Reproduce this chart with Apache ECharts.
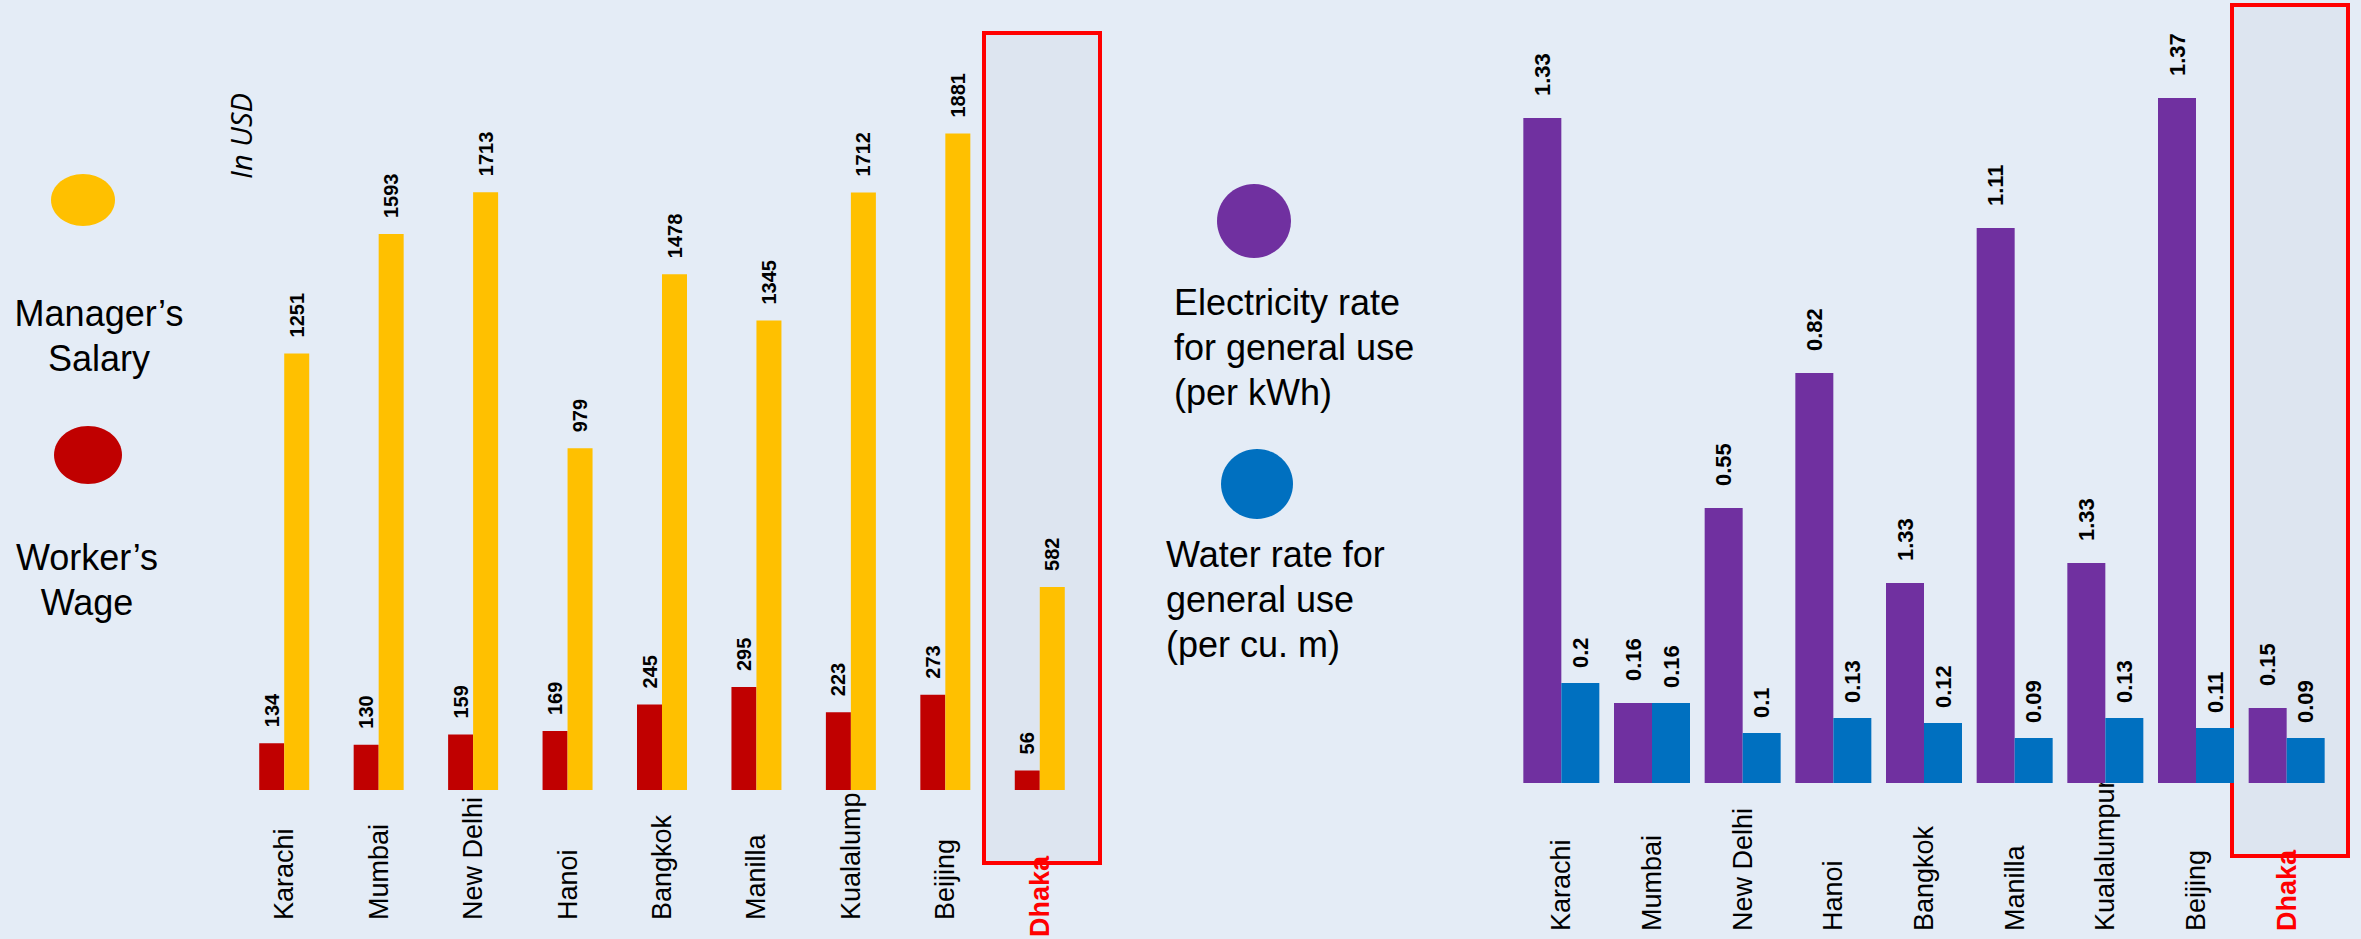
<!DOCTYPE html>
<html lang="en">
<head>
    <meta charset="UTF-8">
    <title>Wages and utility rates</title>
    <script src="https://cdn.jsdelivr.net/npm/echarts@6/dist/echarts.min.js"></script>
    <style>
        html, body { margin: 0; padding: 0; background: #e4ecf6; }
        #chart { width: 2361px; height: 939px; }
    </style>
</head>
<body>
    <div id="chart"></div>
    <script>
        // cities (left chart label is cut short in the original)
        let wageCities = ['Karachi', 'Mumbai', 'New Delhi', 'Hanoi', 'Bangkok', 'Manilla', 'Kualalump', 'Beijing', 'Dhaka'];
        let rateCities = ['Karachi', 'Mumbai', 'New Delhi', 'Hanoi', 'Bangkok', 'Manilla', 'Kualalumpur', 'Beijing', 'Dhaka'];
        // monthly pay, USD
        let workerWage = [134, 130, 159, 169, 245, 295, 223, 273, 56];
        let managerSalary = [1251, 1593, 1713, 979, 1478, 1345, 1712, 1881, 582];
        // electricity: bar heights as drawn, and the printed labels (two labels don't match their bars)
        let elecRate = [1.33, 0.16, 0.55, 0.82, 0.40, 1.11, 0.44, 1.37, 0.15];
        let elecLabels = ['1.33', '0.16', '0.55', '0.82', '1.33', '1.11', '1.33', '1.37', '0.15'];
        // water per cu. m
        let waterRate = [0.2, 0.16, 0.1, 0.13, 0.12, 0.09, 0.13, 0.11, 0.09];

        let font = 'Liberation Sans, Arial, sans-serif';

        // Dhaka gets red bold label
        function catData(list) {
            return list.map(c => c === 'Dhaka'
                ? { value: c, textStyle: {
                        color: '#ff0000', fontWeight: 'bold',
                        align: 'left', verticalAlign: 'middle', padding: [0, 0, 0, 0]
                    } }
                : c);
        }

        function barLabel(size, dist, formatter) {
            let l = {
                show: true,
                position: 'top',
                rotate: 90,
                align: 'left',
                verticalAlign: 'middle',
                distance: dist,
                fontSize: size,
                fontWeight: 'bold',
                fontFamily: font,
                color: '#000'
            };
            if (formatter) l.formatter = formatter;
            return l;
        }

        function legendText(x, y, text, align) {
            return {
                type: 'text',
                x: x,
                y: y,
                style: {
                    text: text,
                    font: '36px ' + font,
                    fill: '#000',
                    align: align,
                    verticalAlign: 'top',
                    lineHeight: 45
                }
            };
        }

        let chart = echarts.init(document.getElementById('chart'), null, { renderer: 'svg' });
        chart.setOption({
            backgroundColor: '#e4ecf6',
            animation: false,
            grid: [
                { left: 237, width: 850, top: 92, height: 698, outerBoundsMode: 'none' },
                { left: 1516, width: 816, top: 33, height: 750, outerBoundsMode: 'none' }
            ],
            xAxis: [
                {
                    type: 'category', gridIndex: 0, data: catData(wageCities),
                    axisLine: { show: false }, axisTick: { show: false },
                    axisLabel: {
                        interval: 0, rotate: 90, align: 'left', verticalAlign: 'middle',
                        margin: 147, padding: [0, 0, 0, 17],
                        fontSize: 27, fontFamily: font, color: '#000'
                    }
                },
                {
                    type: 'category', gridIndex: 1, data: catData(rateCities),
                    axisLine: { show: false }, axisTick: { show: false },
                    axisLabel: {
                        interval: 0, rotate: 90, align: 'left', verticalAlign: 'middle',
                        margin: 148,
                        fontSize: 27, fontFamily: font, color: '#000'
                    }
                }
            ],
            yAxis: [
                { type: 'value', gridIndex: 0, min: 0, max: 2000, show: false, splitLine: { show: false } },
                { type: 'value', gridIndex: 1, min: 0, max: 1.5, show: false, splitLine: { show: false } }
            ],
            series: [
                {
                    name: "Worker's Wage", type: 'bar', xAxisIndex: 0, yAxisIndex: 0,
                    data: workerWage, barWidth: 25, barGap: '0%',
                    itemStyle: { color: '#C00000' },
                    label: barLabel(20, 16)
                },
                {
                    name: "Manager's Salary", type: 'bar', xAxisIndex: 0, yAxisIndex: 0,
                    data: managerSalary, barWidth: 25, barGap: '0%',
                    itemStyle: { color: '#FFC000' },
                    label: barLabel(20, 16)
                },
                {
                    name: 'Electricity rate', type: 'bar', xAxisIndex: 1, yAxisIndex: 1,
                    data: elecRate, barWidth: 38, barGap: '0%',
                    itemStyle: { color: '#7030A0' },
                    label: barLabel(22, 22, p => elecLabels[p.dataIndex])
                },
                {
                    name: 'Water rate', type: 'bar', xAxisIndex: 1, yAxisIndex: 1,
                    data: waterRate, barWidth: 38, barGap: '0%',
                    itemStyle: { color: '#0070C0' },
                    label: barLabel(22, 15)
                }
            ],
            graphic: [
                // Dhaka highlight boxes
                { type: 'rect', z: -1, shape: { x: 984, y: 33, width: 116, height: 830 },
                  style: { fill: 'rgba(190,200,215,0.18)', stroke: '#ff0000', lineWidth: 4 } },
                { type: 'rect', z: -1, shape: { x: 2232, y: 5, width: 116, height: 851 },
                  style: { fill: 'rgba(190,200,215,0.18)', stroke: '#ff0000', lineWidth: 4 } },
                // legend dots
                { type: 'ellipse', shape: { cx: 83, cy: 200, rx: 32, ry: 26 }, style: { fill: '#FFC000' } },
                { type: 'ellipse', shape: { cx: 88, cy: 455, rx: 34, ry: 29 }, style: { fill: '#C00000' } },
                { type: 'ellipse', shape: { cx: 1254, cy: 221, rx: 37, ry: 37 }, style: { fill: '#7030A0' } },
                { type: 'ellipse', shape: { cx: 1257, cy: 484, rx: 36, ry: 35 }, style: { fill: '#0070C0' } },
                // legend texts
                legendText(99, 291, 'Manager\u2019s\nSalary', 'center'),
                legendText(87, 535, 'Worker\u2019s\nWage', 'center'),
                legendText(1174, 280, 'Electricity rate\nfor general use\n(per kWh)', 'left'),
                legendText(1166, 532, 'Water rate for\ngeneral use\n(per cu. m)', 'left'),
                {
                    type: 'text', x: 240, y: 136, rotation: Math.PI / 2,
                    style: {
                        text: 'In USD', font: 'italic 29px Open Sans, sans-serif', fill: '#000',
                        align: 'center', verticalAlign: 'middle'
                    }
                }
            ]
        });
    </script>
</body>
</html>
